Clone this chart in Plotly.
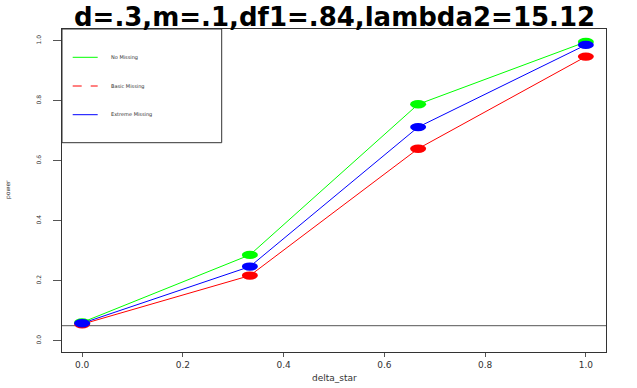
import plotly.graph_objects as go

# ---- data ----
delta_star = [0.0, 0.333, 0.667, 1.0]
no_missing = [0.061, 0.286, 0.788, 0.996]
basic_missing = [0.055, 0.217, 0.640, 0.947]
extreme_missing = [0.058, 0.247, 0.712, 0.986]
alpha_level = 0.05
series_names = ["No Missing", "Basic Missing", "Extreme Missing"]
series_colors = ["#00ff00", "#ff0000", "#0000ff"]
series_dash = ["solid", "dash", "solid"]
x_ticks = [0.0, 0.2, 0.4, 0.6, 0.8, 1.0]
y_ticks = [0.0, 0.2, 0.4, 0.6, 0.8, 1.0]
title_text = "d=.3,m=.1,df1=.84,lambda2=15.12"

FONT = "DejaVu Sans"
W, H = 637, 388
L, R, T, B = 62, 31, 29, 36
PW, PH = W - L - R, H - T - B

def px_x(p):  # pixel -> paper
    return (p - L) / PW

def px_y(p):
    return (H - B - p) / PH

fig = go.Figure()
series = [no_missing, basic_missing, extreme_missing]
for vals, name, col in zip(series, series_names, series_colors):
    fig.add_trace(go.Scatter(x=delta_star, y=vals, mode="lines", name=name,
                             line=dict(color=col, width=1), showlegend=False))

shapes = []
# reference line
shapes.append(dict(type="line", xref="paper", yref="y", x0=0, x1=1,
                   y0=alpha_level, y1=alpha_level,
                   line=dict(color="#555555", width=1), layer="below"))
# elliptical points (pixel-sized, anchored at data values)
for vals, col in zip(series, series_colors):
    for xv, yv in zip(delta_star, vals):
        shapes.append(dict(type="circle", xref="x", yref="y",
                           xsizemode="pixel", ysizemode="pixel",
                           xanchor=xv, yanchor=yv,
                           x0=-8, x1=8, y0=-4.2, y1=4.2,
                           fillcolor=col, line=dict(width=0), layer="above"))

# legend box
shapes.append(dict(type="rect", xref="paper", yref="paper",
                   x0=0, x1=px_x(221.7), y0=px_y(142.7), y1=1,
                   line=dict(color="#333333", width=1), fillcolor="rgba(0,0,0,0)"))
annotations = []
leg_y = [57.3, 86.0, 114.7]
for yy, name, col, dash in zip(leg_y, series_names, series_colors, series_dash):
    shapes.append(dict(type="line", xref="paper", yref="paper",
                       x0=px_x(72.7), x1=px_x(97.7), y0=px_y(yy), y1=px_y(yy),
                       line=dict(color=col, width=1, dash="dash" if dash == "dash" else "solid")))
    annotations.append(dict(xref="paper", yref="paper", x=px_x(109), y=px_y(yy),
                            text=name, showarrow=False, xanchor="left", yanchor="middle",
                            font=dict(family=FONT, size=5, color="#333333")))

# title and axis titles
annotations.append(dict(xref="paper", yref="paper", x=0.5, y=px_y(16.5),
                        text="<b>" + title_text + "</b>", showarrow=False,
                        xanchor="center", yanchor="middle", borderpad=0,
                        font=dict(family=FONT, size=26, color="black")))
annotations.append(dict(xref="paper", yref="paper", x=0.5, y=px_y(377.5),
                        text="delta_star", showarrow=False,
                        xanchor="center", yanchor="middle",
                        font=dict(family=FONT, size=9, color="#333333")))
annotations.append(dict(xref="paper", yref="paper", x=px_x(8), y=px_y(190),
                        text="power", showarrow=False, textangle=-90,
                        xanchor="center", yanchor="middle",
                        font=dict(family=FONT, size=6, color="#333333")))

fig.update_layout(
    width=W, height=H,
    margin=dict(l=L, r=R, t=T, b=B, pad=0, autoexpand=False),
    paper_bgcolor="white", plot_bgcolor="white",
    shapes=shapes, annotations=annotations,
    showlegend=False,
    xaxis=dict(range=[-0.04, 1.04], tickvals=x_ticks, automargin=False,
               ticktext=[f"{v:.1f}" for v in x_ticks],
               ticks="outside", ticklen=4, tickcolor="#555555",
               showline=True, linecolor="#333333", linewidth=1, mirror=True,
               showgrid=False, zeroline=False,
               tickfont=dict(family=FONT, size=9, color="#333333")),
    yaxis=dict(range=[-0.0377, 1.039], tickvals=y_ticks, automargin=False,
               ticktext=[f"{v:.1f}" for v in y_ticks],
               ticks="outside", ticklen=8, tickcolor="#555555", tickangle=-90,
               ticklabelstandoff=10,
               showline=True, linecolor="#333333", linewidth=1, mirror=True,
               showgrid=False, zeroline=False,
               tickfont=dict(family=FONT, size=6, color="#333333")),
)

fig.write_html("out.html", config={"displayModeBar": False},
               post_script="document.body.style.margin='0';document.body.style.padding='0';")
